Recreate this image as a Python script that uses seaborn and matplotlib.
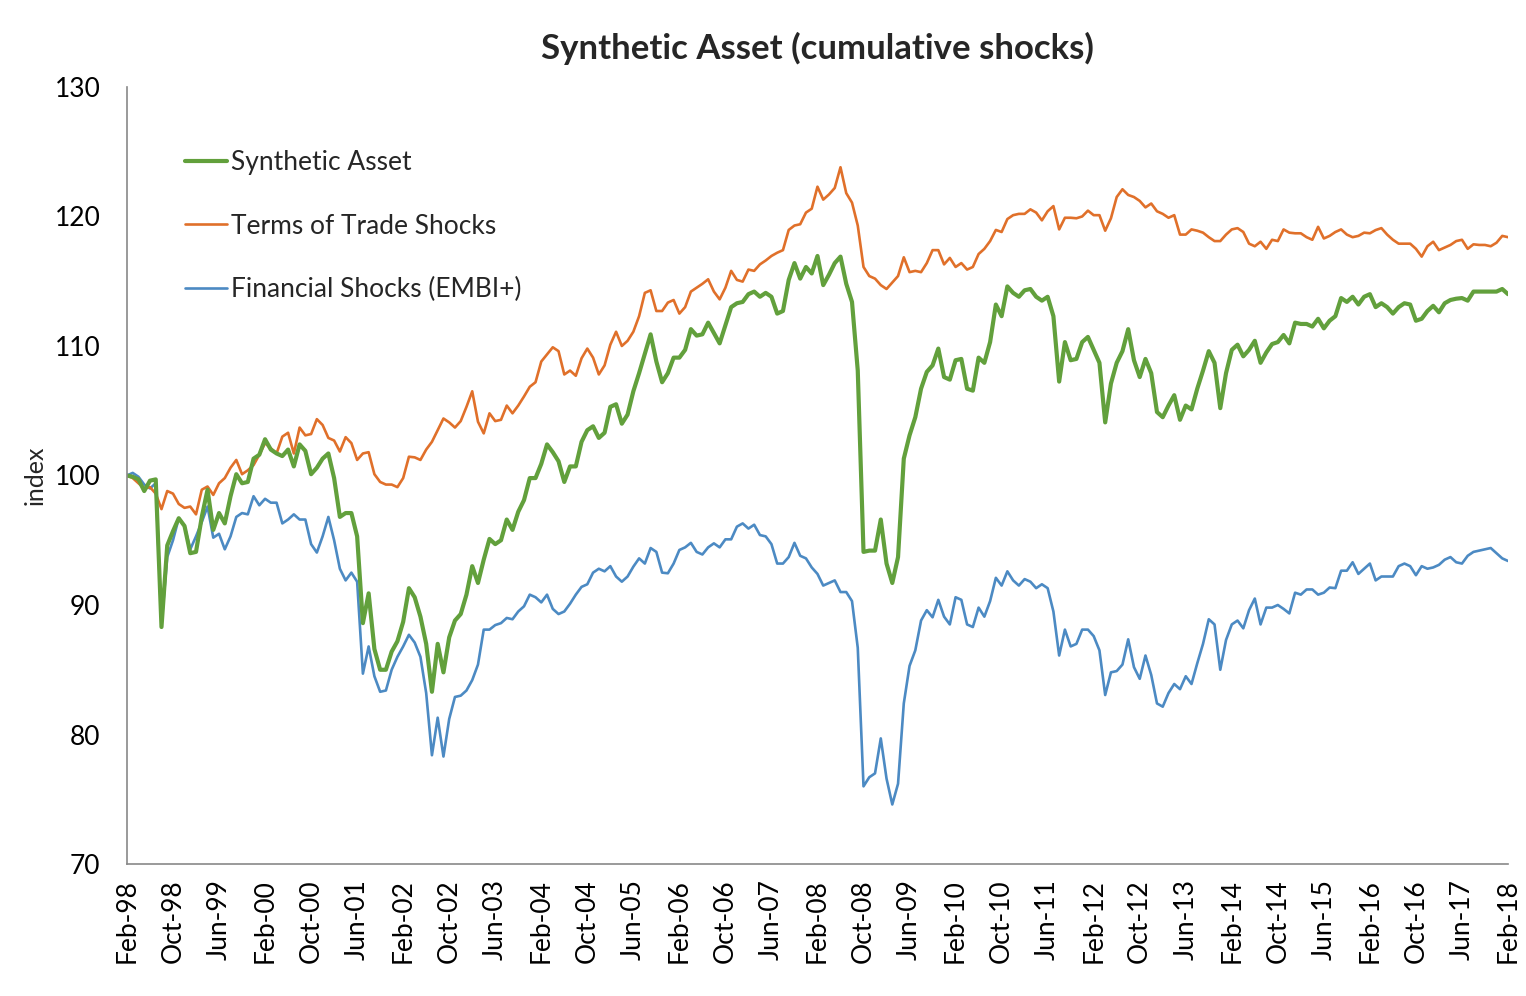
import numpy as np
import pandas as pd
import matplotlib
matplotlib.use("Agg")
import matplotlib.pyplot as plt
import seaborn as sns

# monthly index values, Feb-98 .. Feb-18
synthetic_asset = [
    100.0, 99.9, 99.7, 98.8, 99.6, 99.7, 88.3, 94.6, 95.7, 96.7,
    96.1, 94.0, 94.1, 96.8, 98.9, 95.8, 97.1, 96.3, 98.4, 100.1,
    99.4, 99.5, 101.3, 101.6, 102.8, 102.0, 101.7, 101.5, 102.0, 100.7,
    102.4, 101.9, 100.1, 100.6, 101.3, 101.7, 99.8, 96.8, 97.1, 97.1,
    95.3, 88.6, 90.9, 86.6, 85.0, 85.0, 86.4, 87.2, 88.7, 91.3,
    90.6, 89.1, 87.0, 83.3, 87.0, 84.8, 87.5, 88.8, 89.3, 90.8,
    93.0, 91.7, 93.5, 95.1, 94.7, 95.0, 96.6, 95.8, 97.2, 98.1,
    99.8, 99.8, 100.9, 102.4, 101.8, 101.1, 99.5, 100.7, 100.7, 102.6,
    103.5, 103.8, 102.9, 103.3, 105.3, 105.5, 104.0, 104.7, 106.5, 107.9,
    109.4, 110.9, 108.8, 107.2, 107.9, 109.1, 109.1, 109.7, 111.3, 110.8,
    110.9, 111.8, 111.0, 110.2, 111.6, 113.0, 113.3, 113.4, 114.0, 114.2,
    113.8, 114.1, 113.8, 112.5, 112.7, 115.1, 116.4, 115.2, 116.1, 115.6,
    116.95, 114.7, 115.5, 116.4, 116.9, 114.8, 113.4, 108.1, 94.1, 94.2,
    94.2, 96.6, 93.2, 91.7, 93.7, 101.3, 103.1, 104.5,
    106.7, 108.0, 108.5, 109.8, 107.6, 107.4, 108.9, 109.0, 106.7, 106.55,
    109.1, 108.7, 110.3, 113.2, 112.3, 114.6,
    114.1, 113.8, 114.3, 114.4, 113.8, 113.5, 113.8, 112.3, 107.25, 110.3,
    108.9, 109.0, 110.3, 110.7, 109.7, 108.7, 104.1, 107.1, 108.7, 109.6,
    111.3, 108.9, 107.6, 109.0, 107.9, 104.9, 104.5, 105.4, 106.2, 104.3,
    105.4, 105.1, 106.7, 108.1, 109.6, 108.7, 105.2, 107.9, 109.7, 110.1,
    109.2, 109.7,
    110.4, 108.7, 109.5, 110.15, 110.3, 110.85, 110.2, 111.8, 111.7, 111.7,
    111.5, 112.1, 111.36, 111.95, 112.3, 113.7, 113.4, 113.8, 113.2, 113.8,
    114.0, 113.0, 113.3, 113.0, 112.5, 113.0, 113.3, 113.2, 111.95, 112.1,
    112.7, 113.1, 112.6, 113.3, 113.55, 113.65, 113.7, 113.5, 114.2, 114.2,
    114.2, 114.2, 114.2, 114.4, 114.0,
]

terms_of_trade = [
    100.0, 99.8, 99.4, 99.0, 99.1, 98.6, 97.4, 98.8, 98.6, 97.8,
    97.5, 97.6, 97.0, 98.9, 99.15, 98.5, 99.4, 99.8, 100.6, 101.2,
    100.1, 100.4, 100.8, 101.6, 102.5, 102.1, 101.7, 103.0, 103.3, 101.7,
    103.7, 103.1, 103.2, 104.35, 103.9, 102.9, 102.7, 101.85, 102.96, 102.5,
    101.2, 101.7, 101.8, 100.1, 99.5, 99.3, 99.3, 99.1, 99.8, 101.45,
    101.4, 101.2, 102.0, 102.6, 103.5, 104.4, 104.1, 103.7, 104.2, 105.3,
    106.5, 104.15, 103.25, 104.8, 104.2, 104.3, 105.4, 104.8, 105.4, 106.1,
    106.85, 107.2, 108.8, 109.35, 109.9, 109.6, 107.8, 108.1, 107.7, 109.05,
    109.8, 109.1, 107.8, 108.5, 110.1, 111.1, 110.0, 110.4, 111.1, 112.3,
    114.1, 114.3, 112.7, 112.7, 113.35, 113.55, 112.5, 113.0, 114.2, 114.5,
    114.8, 115.15, 114.2, 113.6, 114.5, 115.8, 115.1, 114.97, 115.9, 115.8,
    116.3, 116.6, 116.95, 117.2, 117.4, 118.96, 119.3, 119.4, 120.3, 120.6,
    122.3, 121.3, 121.7, 122.2, 123.8, 121.8, 121.07, 119.3, 116.1, 115.4,
    115.2, 114.7, 114.4, 114.9, 115.4, 116.85, 115.7, 115.8,
    115.7, 116.4, 117.4, 117.4, 116.3, 116.8, 116.1, 116.4, 115.9, 116.1,
    117.1, 117.5, 118.1, 118.96, 118.8, 119.8,
    120.1, 120.2, 120.2, 120.55, 120.3, 119.7, 120.4, 120.8, 119.0, 119.9,
    119.9, 119.86, 120.0, 120.45, 120.1, 120.1, 118.9, 119.86, 121.5, 122.1,
    121.66, 121.5, 121.2, 120.7, 121.0, 120.4, 120.2, 119.9, 120.1, 118.6,
    118.6, 119.0, 118.9, 118.75, 118.4, 118.1, 118.1, 118.6, 119.0, 119.1,
    118.8, 117.9,
    117.7, 118.05, 117.5, 118.2, 118.1, 119.0, 118.75, 118.7, 118.7, 118.4,
    118.2, 119.2, 118.3, 118.5, 118.8, 119.0, 118.6, 118.4, 118.5, 118.75,
    118.7, 118.95, 119.1, 118.6, 118.2, 117.9, 117.9, 117.9, 117.5, 116.9,
    117.7, 118.05, 117.4, 117.6, 117.8, 118.1, 118.2, 117.5, 117.85, 117.8,
    117.8, 117.7, 117.97, 118.5, 118.4,
]

financial_embi = [
    100.0, 100.2, 99.9, 99.3, 99.0, 99.4, 88.5, 93.7, 95.0, 96.7,
    96.1, 94.3, 95.3, 96.4, 97.6, 95.2, 95.5, 94.3, 95.3, 96.8,
    97.1, 97.0, 98.4, 97.7, 98.2, 97.9, 97.9, 96.3, 96.6, 97.0,
    96.6, 96.6, 94.7, 94.05, 95.3, 96.8, 95.0, 92.8, 91.9, 92.5,
    91.8, 84.7, 86.8, 84.5, 83.3, 83.4, 85.0, 86.0, 86.8, 87.7,
    87.1, 86.0, 83.2, 78.4, 81.3, 78.3, 81.2, 82.9, 83.0, 83.4,
    84.2, 85.4, 88.1, 88.1, 88.45, 88.6, 89.0, 88.9, 89.5, 89.9,
    90.8, 90.6, 90.2, 90.8, 89.7, 89.3, 89.5, 90.1, 90.8, 91.4,
    91.6, 92.5, 92.8, 92.6, 93.0, 92.2, 91.8, 92.2, 92.96, 93.6,
    93.2, 94.4, 94.1, 92.5, 92.45, 93.2, 94.25, 94.45, 94.8, 94.1,
    93.9, 94.45, 94.76, 94.45, 95.07, 95.07, 96.05, 96.3, 95.9, 96.2,
    95.4, 95.3, 94.7, 93.2, 93.2, 93.7, 94.8, 93.8, 93.6, 92.9,
    92.4, 91.5, 91.7, 91.9, 91.0, 91.0, 90.3, 86.7, 76.0, 76.7,
    77.0, 79.7, 76.6, 74.6, 76.2, 82.4, 85.3, 86.5,
    88.8, 89.6, 89.05, 90.4, 89.1, 88.5, 90.6, 90.4, 88.5, 88.3,
    89.8, 89.1, 90.3, 92.1, 91.5, 92.6,
    91.9, 91.5, 92.0, 91.8, 91.3, 91.6, 91.3, 89.5, 86.1, 88.1,
    86.8, 87.0, 88.1, 88.1, 87.6, 86.5, 83.05, 84.8, 84.9, 85.4,
    87.35, 85.2, 84.3, 86.1, 84.6, 82.4, 82.15, 83.2, 83.9, 83.5,
    84.5, 83.9, 85.5, 87.0, 88.9, 88.5, 85.0, 87.3, 88.5, 88.8,
    88.2, 89.6,
    90.5, 88.5, 89.8, 89.8, 90.0, 89.7, 89.35, 90.95, 90.8, 91.2,
    91.2, 90.8, 90.95, 91.35, 91.3, 92.65, 92.65, 93.3, 92.4, 92.8,
    93.2, 91.9, 92.2, 92.2, 92.2, 93.0, 93.2, 93.0, 92.3, 93.0,
    92.8, 92.9, 93.1, 93.5, 93.7, 93.3, 93.2, 93.8, 94.1, 94.2,
    94.3, 94.4, 94.0, 93.6, 93.4,
]

series_names = ["Synthetic Asset", "Terms of Trade Shocks", "Financial Shocks (EMBI+)"]

tick_labels = [
    "Feb-98", "Oct-98", "Jun-99", "Feb-00", "Oct-00", "Jun-01", "Feb-02", "Oct-02",
    "Jun-03", "Feb-04", "Oct-04", "Jun-05", "Feb-06", "Oct-06", "Jun-07", "Feb-08",
    "Oct-08", "Jun-09", "Feb-10", "Oct-10", "Jun-11", "Feb-12", "Oct-12", "Jun-13",
    "Feb-14", "Oct-14", "Jun-15", "Feb-16", "Oct-16", "Jun-17", "Feb-18",
]
months_per_tick = 8

colors = {"Synthetic Asset": "#62A03C",
          "Terms of Trade Shocks": "#E0702A",
          "Financial Shocks (EMBI+)": "#4C8AC3"}
widths = {"Synthetic Asset": 3.0,
          "Terms of Trade Shocks": 1.9,
          "Financial Shocks (EMBI+)": 1.9}

sns.set_style("white")
plt.rcParams["font.family"] = ["Lato", "DejaVu Sans"]

# long format table for seaborn
month = np.arange(len(synthetic_asset))
frames = []
for name, vals in zip(series_names, [synthetic_asset, terms_of_trade, financial_embi]):
    frames.append(pd.DataFrame({"month": month, "value": vals, "series": name}))
df = pd.concat(frames, ignore_index=True)

fig = plt.figure(figsize=(15.26, 9.96), dpi=100)
ax = fig.add_axes([0.0832, 0.1325, 0.905, 0.7802])

# draw blue, orange, then green on top
for name in series_names[::-1]:
    sns.lineplot(data=df[df["series"] == name], x="month", y="value",
                 color=colors[name], linewidth=widths[name], ax=ax,
                 label=name, legend=False)

ax.set_xlim(0, len(month) - 1)
ax.set_ylim(70, 130)
ax.set_yticks(np.arange(70, 131, 10))
ax.set_xticks(np.arange(0, len(month), months_per_tick))
ax.set_xticklabels(tick_labels, rotation=90)

for side in ["top", "right"]:
    ax.spines[side].set_visible(False)
for side in ["left", "bottom"]:
    ax.spines[side].set_color("#898989")
    ax.spines[side].set_linewidth(1.2)
ax.tick_params(axis="both", direction="out", length=7, width=1.2, color="#898989",
               labelsize=19, labelcolor="black")
ax.tick_params(axis="y", pad=12)
ax.tick_params(axis="x", pad=4)

ax.set_xlabel("")
ax.set_ylabel("index", fontsize=18, labelpad=6)
ax.set_title("Synthetic Asset (cumulative shocks)", fontsize=25, fontweight="bold",
             pad=20)

handles = [plt.Line2D([], [], color=colors[n], linewidth=widths[n]) for n in series_names]
ax.legend(handles, series_names, loc="upper left", bbox_to_anchor=(0.025, 0.949),
          frameon=False, fontsize=19, handlelength=1.6, handletextpad=0.15,
          labelspacing=1.45)

fig.savefig("out.png", dpi=100)
